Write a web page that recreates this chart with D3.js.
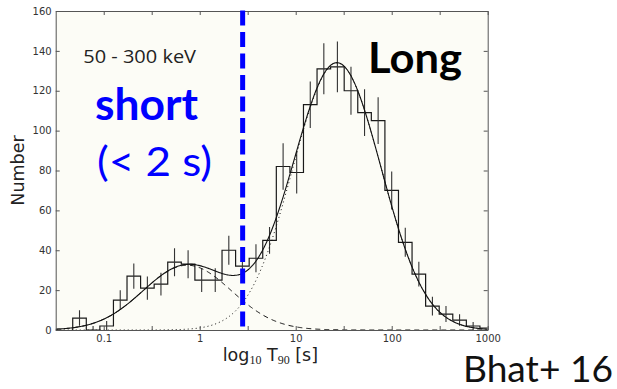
<!DOCTYPE html>
<html><head><meta charset="utf-8">
<script src="https://cdn.jsdelivr.net/npm/d3@7"></script>
<style>body{margin:0;background:#fff}svg{display:block}</style>
</head><body><svg id="c" width="617" height="389"></svg>
<script>
// ---- data ----
const binLogStart = -1.323;   // log10 T90 of first bin edge
const binLogWidth = 0.1414;   // bin width in log10 T90
const counts = [6,0,2,15,27,21,23,34,33,25,25,40,32,36,45,82,79,113,131,132,120,109,105,70,44,28,12,8,5,2,1];
const errors = [3.9,2,2.5,5,6.3,5.8,5.7,7,7,6,6,7.3,6.5,7,6.7,11.7,10.5,11.7,12.8,12.7,12,11.7,11.7,9.5,7.3,6.2,4.7,4,2.9,2,0];
// two log-normal components of the fit: [amplitude, mean log10 T90, sigma]
const shortComponent = [32.5, -0.13, 0.46];
const longComponent = [134, 1.43, 0.46];
const xTickValues = [0.1, 1, 10, 100, 1000];
const xTickLabels = ["0.1", "1", "10", "100", "1000"];
const xMinorTickValues = [0.316, 3.16, 31.6, 316];
const yTickValues = [0, 20, 40, 60, 80, 100, 120, 140, 160];
const xDomain = [0.0316, 1000];
const yDomain = [0, 160];
const dividerT = 2.8;

// ---- layout ----
const L = 55.7, R = 487.7, T = 11, B = 330;
const svg = d3.select("#c");
const x = d3.scaleLog().domain(xDomain).range([L, R]);
const y = d3.scaleLinear().domain(yDomain).range([B, T]);

svg.append("rect").attr("x",0).attr("y",0).attr("width",617).attr("height",389).attr("fill","#fff");
svg.append("rect").attr("x",L).attr("y",T).attr("width",R-L).attr("height",B-T).attr("fill","#fcfcf6");

svg.append("clipPath").attr("id","clip").append("rect")
  .attr("x",L).attr("y",T).attr("width",R-L).attr("height",B-T);
const g = svg.append("g").attr("clip-path","url(#clip)");

// histogram (step)
const edges = d3.range(counts.length + 1).map(i => Math.pow(10, binLogStart + i*binLogWidth));
const pts = [[edges[0], 0]];
counts.forEach((c,i) => pts.push([edges[i], c]));
pts.push([edges[counts.length], 0]);
g.append("path")
  .attr("d", d3.line().x(d => x(d[0])).y(d => y(d[1])).curve(d3.curveStepAfter)(pts))
  .attr("fill","none").attr("stroke","#1a1a1a").attr("stroke-width",1.2);

// error bars
counts.forEach((c,i) => {
  if (errors[i] <= 0) return;
  const xc = x(Math.pow(10, binLogStart + (i+0.5)*binLogWidth));
  g.append("line").attr("x1",xc).attr("x2",xc)
    .attr("y1", y(Math.max(0, c - errors[i]))).attr("y2", y(c + errors[i]))
    .attr("stroke","#333").attr("stroke-width",1.1);
});

// fitted curves
const comp = (p, lt) => p[0]*Math.exp(-Math.pow(lt - p[1],2)/(2*p[2]*p[2]));
const lts = d3.range(-1.5, 3.0001, 0.01);
const lineF = d3.line().x(d => x(Math.pow(10,d[0]))).y(d => y(d[1]));
g.append("path").attr("d", lineF(lts.map(l => [l, comp(shortComponent,l)])))
  .attr("fill","none").attr("stroke","#111").attr("stroke-width",1).attr("stroke-dasharray","5,4");
g.append("path").attr("d", lineF(lts.map(l => [l, comp(longComponent,l)])))
  .attr("fill","none").attr("stroke","#111").attr("stroke-width",1).attr("stroke-dasharray","1,3");
g.append("path").attr("d", lineF(lts.map(l => [l, comp(shortComponent,l)+comp(longComponent,l)])))
  .attr("fill","none").attr("stroke","#111").attr("stroke-width",1.1);

// axes
const allX = xTickValues.concat(xMinorTickValues);
const fmtX = v => { const i = xTickValues.indexOf(v); return i >= 0 ? xTickLabels[i] : ""; };
const styleAxis = sel => {
  sel.select(".domain").attr("stroke","#555").attr("stroke-width",1);
  sel.selectAll(".tick line").attr("stroke","#555");
  sel.selectAll("text").attr("fill","#333").style("font-family","DejaVu Sans").style("font-size","10px");
};
svg.append("g").attr("transform",`translate(0,${B})`)
  .call(d3.axisBottom(x).tickValues(allX).tickFormat(fmtX).tickSizeInner(-4).tickSizeOuter(0).tickPadding(4.5))
  .call(styleAxis);
svg.append("g").attr("transform",`translate(0,${T})`)
  .call(d3.axisTop(x).tickValues(allX).tickFormat("").tickSizeInner(-4).tickSizeOuter(0))
  .call(styleAxis);
svg.append("g").attr("transform",`translate(${L},0)`)
  .call(d3.axisLeft(y).tickValues(yTickValues).tickSizeInner(-4).tickSizeOuter(0).tickPadding(4))
  .call(styleAxis);
svg.append("g").attr("transform",`translate(${R},0)`)
  .call(d3.axisRight(y).tickValues(yTickValues).tickFormat("").tickSizeInner(-4).tickSizeOuter(0))
  .call(styleAxis);

// divider line
svg.append("line").attr("x1",x(dividerT)).attr("x2",x(dividerT)).attr("y1",10.5).attr("y2",B)
  .attr("stroke","#0000ff").attr("stroke-width",5).attr("stroke-dasharray","15,6.5");

// axis labels
const xl = svg.append("text").attr("x",222.7).attr("y",361.3)
  .style("font-family","DejaVu Sans").style("font-size","17.5px").attr("fill","#222");
xl.append("tspan").text("log");
xl.append("tspan").attr("dy",2.8).style("font-family","Liberation Serif").style("font-size","12px").text("10");
xl.append("tspan").attr("dy",-2.8).text(" T");
xl.append("tspan").attr("dy",2.8).style("font-family","Liberation Serif").style("font-size","12px").text("90");
xl.append("tspan").attr("dy",-2.8).text(" [s]");

svg.append("text").attr("transform","translate(24,170.5) rotate(-90)").attr("text-anchor","middle")
  .style("font-family","DejaVu Sans").style("font-size","17.5px").attr("fill","#222").text("Number");

// annotations
const ann = (txt, xx, yy, size, weight, color, len, fam) =>
  svg.append("text").attr("x",xx).attr("y",yy).style("font-family",fam||"Lato")
    .style("font-size",size+"px").style("font-weight",weight).attr("fill",color)
    .attr("textLength",len).attr("lengthAdjust","spacingAndGlyphs").text(txt);
ann("50 - 300 keV", 83.3, 63.3, 19, 400, "#222", 112.7, "Open Sans");
ann("short", 95, 120, 43, 700, "#0000ff", 103);
ann("(< 2 s)", 97, 176, 41, 400, "#0000ff", 115);
ann("Long", 368, 73, 42, 700, "#000", 94);
ann("Bhat+ 16", 463, 381.7, 36, 400, "#111", 150);
</script></body></html>
